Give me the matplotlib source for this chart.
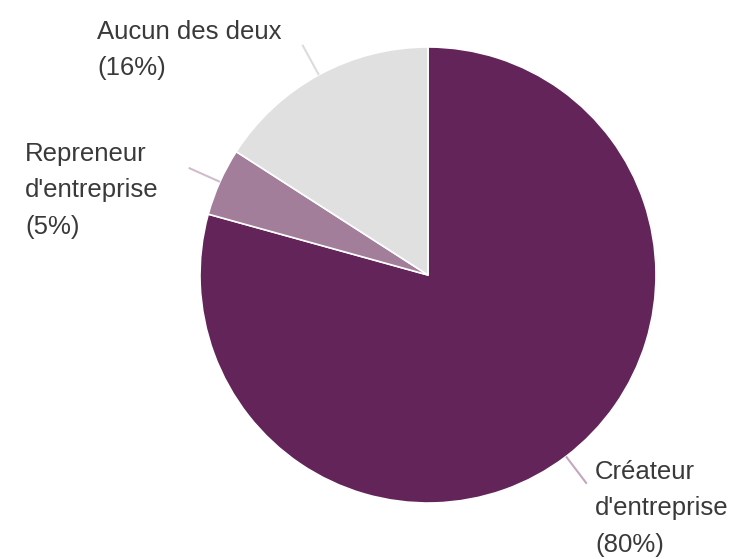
import numpy as np
import matplotlib.pyplot as plt

categories = ["Créateur\nd'entreprise", "Repreneur\nd'entreprise", "Aucun des deux"]
valeurs = [79.3, 4.8, 15.9]
pourcents = ["80%", "5%", "16%"]
couleurs = ["#63245a", "#a27e9a", "#e0e0e0"]
lignes = ["#c4a6bf", "#d2bccd", "#dcdcdc"]

fig = plt.figure(figsize=(7.4, 5.59), dpi=100)
ax = fig.add_axes([0, 0, 1, 1])

cx, cy, r = 428, 284, 228
wedges, _ = ax.pie(valeurs, colors=couleurs, startangle=90, counterclock=False,
                   radius=r, center=(cx, cy), frame=True,
                   wedgeprops=dict(edgecolor="white", linewidth=1.2))
ax.set_xlim(0, 740)
ax.set_ylim(0, 559)
ax.set_aspect("equal")
ax.axis("off")

# positions des étiquettes (coin haut-gauche du texte)
pos_txt = [(595, 99), (25, 417), (97, 539)]

for w, cat, pc, col, (tx, ty) in zip(wedges, categories, pourcents, lignes, pos_txt):
    a = np.deg2rad((w.theta1 + w.theta2) / 2)
    x0, y0 = cx + r * np.cos(a), cy + r * np.sin(a)
    x1, y1 = cx + 1.15 * r * np.cos(a), cy + 1.15 * r * np.sin(a)
    ax.plot([x0, x1], [y0, y1], color=col, lw=1.5, solid_capstyle="butt")
    ax.text(tx, ty, cat + "\n(" + pc + ")", ha="left", va="top",
            fontsize=18.5, family="Liberation Sans", color="#3a3a3a",
            linespacing=1.65)

fig.savefig("out.png", dpi=100)
